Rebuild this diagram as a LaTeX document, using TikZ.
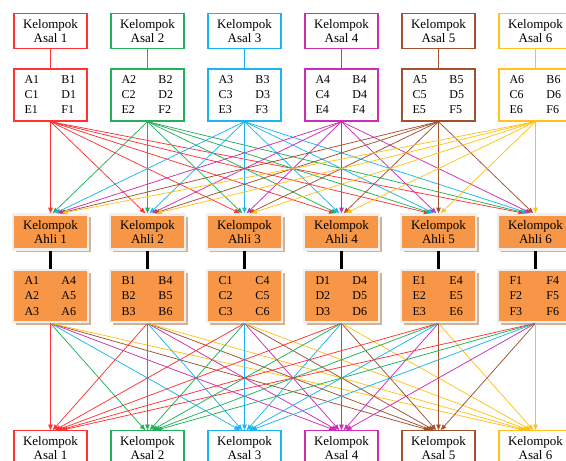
\documentclass[tikz,border=0pt]{standalone}
\usepackage{fontspec}
\setmainfont{Liberation Serif}
\usepackage{xcolor}
\usepackage{tikz}
\usetikzlibrary{positioning,calc,arrows.meta,shadows}

\definecolor{asal1}{HTML}{FF3333}
\definecolor{asal2}{HTML}{22B05A}
\definecolor{asal3}{HTML}{1CB4EE}
\definecolor{asal4}{HTML}{CC2DB4}
\definecolor{asal5}{HTML}{A0522D}
\definecolor{asal6}{HTML}{FFC21A}
\definecolor{ahli}{HTML}{F79646}
\definecolor{rim}{HTML}{F2EEEB}
\definecolor{shade}{HTML}{CDB29C}

\newcommand{\duo}[2]{\makebox[37pt][l]{#1}\makebox[15pt][l]{#2}}

\begin{document}
\begin{tikzpicture}[x=1pt,y=-1pt,
    txt/.style={font=\fontsize{13}{13.5}\selectfont, align=center, inner sep=0pt},
    asalbox/.style={txt, draw=#1, line width=1.3pt, fill=white, minimum width=73pt, minimum height=34.5pt},
    listbox/.style={asalbox=#1, minimum height=52pt, font=\fontsize{12}{15}\selectfont},
    ahlibox/.style={txt, fill=ahli, draw=rim, line width=2.6pt, minimum width=75pt, minimum height=35pt,
      drop shadow={shadow xshift=2.5pt, shadow yshift=-2.5pt, fill=shade, opacity=1}},
    ahlilist/.style={ahlibox, minimum height=52pt, font=\fontsize{12}{15.5}\selectfont},
    link/.style={line width=0.75pt, -{Triangle[length=5.5pt,width=4.5pt]}}
  ]
  \useasboundingbox (0,0) rectangle (566,461);

  % kelompok asal dan anggotanya
  \foreach \i in {1,...,6} {
    \pgfmathsetmacro{\cx}{50.5+97*(\i-1)}
    \node[asalbox=asal\i] (a\i) at (\cx,31) {Kelompok\\Asal \i};
    \node[listbox=asal\i] (s\i) at (\cx,95) {\duo{A\i}{B\i}\\\duo{C\i}{D\i}\\\duo{E\i}{F\i}};
    \draw[asal\i, line width=0.9pt] (a\i) -- (s\i);
  }

  % kelompok ahli
  \foreach \i/\L in {1/A,2/B,3/C,4/D,5/E,6/F} {
    \pgfmathsetmacro{\cx}{50.5+97*(\i-1)}
    \node[ahlibox] (e\i) at (\cx,232) {Kelompok\\Ahli \i};
    \node[ahlilist] (m\i) at (\cx,296) {\duo{\L1}{\L4}\\\duo{\L2}{\L5}\\\duo{\L3}{\L6}};
    \draw[line width=2.5pt] (e\i) -- (m\i);
  }

  % kembali ke kelompok asal
  \foreach \i in {1,...,6} {
    \pgfmathsetmacro{\cx}{50.5+97*(\i-1)}
    \node[asalbox=asal\i] (b\i) at (\cx,448) {Kelompok\\Asal \i};
  }

  % asal -> ahli
  \foreach \j in {1,...,6}
    \foreach \i in {1,...,6}
      \draw[link, asal\j] (s\j.south) -- ([xshift={(\j-\i)*2.3pt}]e\i.north);

  % ahli -> asal
  \foreach \i in {1,...,6}
    \foreach \j in {1,...,6}
      \draw[link, asal\j] (m\i.south) -- ([xshift={(\i-\j)*2.3pt}]b\j.north);
\end{tikzpicture}
\end{document}
